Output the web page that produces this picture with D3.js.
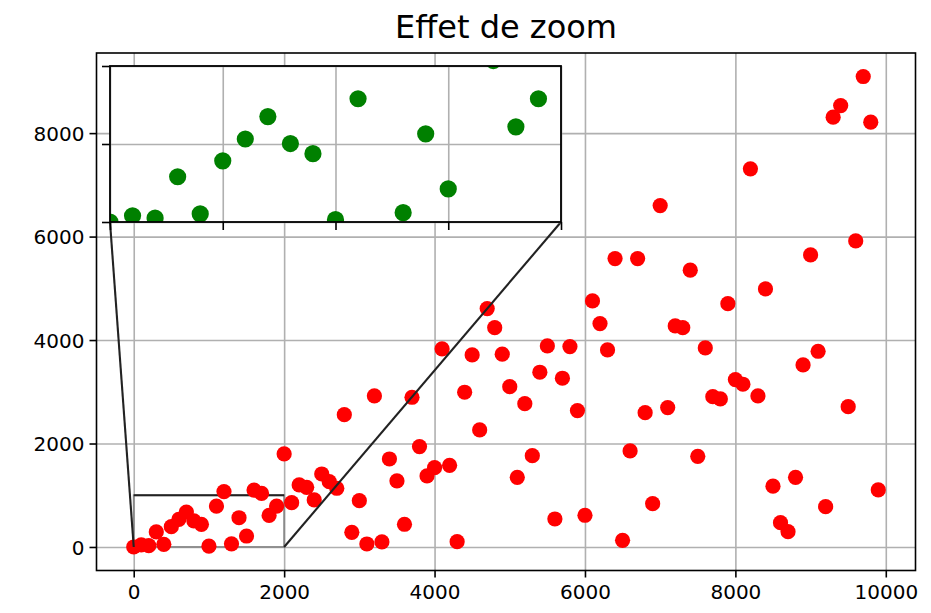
<!DOCTYPE html>
<html>
<head>
<meta charset="utf-8">
<script src="https://cdn.jsdelivr.net/npm/d3@7"></script>
<style>
  body { margin: 0; background: #fff; }
  text { font-family: "DejaVu Sans", sans-serif; fill: #000; }
</style>
</head>
<body>
<div id="chart"></div>
<script>
// data
const xValues = [
  0, 100, 200, 300, 400, 500, 600, 700, 800, 900,
  1000, 1100, 1200, 1300, 1400, 1500, 1600, 1700, 1800, 1900,
  2000, 2100, 2200, 2300, 2400, 2500, 2600, 2700, 2800, 2900,
  3000, 3100, 3200, 3300, 3400, 3500, 3600, 3700, 3800, 3900,
  4000, 4100, 4200, 4300, 4400, 4500, 4600, 4700, 4800, 4900,
  5000, 5100, 5200, 5300, 5400, 5500, 5600, 5700, 5800, 5900,
  6000, 6100, 6200, 6300, 6400, 6500, 6600, 6700, 6800, 6900,
  7000, 7100, 7200, 7300, 7400, 7500, 7600, 7700, 7800, 7900,
  8000, 8100, 8200, 8300, 8400, 8500, 8600, 8700, 8800, 8900,
  9000, 9100, 9200, 9300, 9400, 9500, 9600, 9700, 9800, 9900
];
const yValues = [
  0, 40, 25, 290, 52, 392, 532, 676, 503, 438,
  15, 790, 1070, 60, 565, 212, 1100, 1035, 610, 790,
  1798, 857, 1199, 1154, 909, 1411, 1263, 1135, 2558, 284,
  896, 58, 2920, 97, 1701, 1276, 439, 2894, 1940, 1373,
  1533, 3828, 1579, 103, 2991, 3712, 2262, 4608, 4240, 3726,
  3099, 1347, 2771, 1765, 3378, 3886, 541, 3262, 3873, 2636,
  613, 4756, 4318, 3809, 5574, 129, 1856, 5574, 2597, 837,
  6599, 2694, 4273, 4240, 5350, 1753, 3848, 2906, 2862, 4704,
  3235, 3146, 7310, 2920, 4988, 1175, 470, 296, 1347, 3519,
  5646, 3783, 779, 8308, 8533, 2713, 5916, 9094, 8211, 1102
];
const xTicks = [0, 2000, 4000, 6000, 8000, 10000];
const yTicks = [0, 2000, 4000, 6000, 8000];
const zoomX = [0, 2000];
const zoomY = [0, 1000];
const zoomXTicks = [0, 500, 1000, 1500, 2000];
const zoomYTicks = [0, 500, 1000];
const title = 'Effet de zoom';

const W = 931, H = 613;
const box = { left: 96.5, right: 915.5, top: 53, bottom: 570.5 };
const inset = { left: 110, right: 561, top: 66, bottom: 222 };
const gridColor = '#b0b0b0';
const data = xValues.map((x, i) => ({ x: x, y: yValues[i] }));

const svg = d3.select('#chart').append('svg')
  .attr('width', W)
  .attr('height', H);

// matplotlib style 5% margins
const pad = (ext) => {
  const r = ext[1] - ext[0];
  return [ext[0] - 0.05 * r, ext[1] + 0.05 * r];
};
const x = d3.scaleLinear().domain(pad(d3.extent(xValues))).range([box.left, box.right]);
const y = d3.scaleLinear().domain(pad(d3.extent(yValues))).range([box.bottom, box.top]);

svg.append('text')
  .attr('x', (box.left + box.right) / 2)
  .attr('y', 38)
  .attr('text-anchor', 'middle')
  .style('font-size', '32px')
  .text(title);

const main = svg.append('g');

// grid
main.append('g')
  .attr('transform', 'translate(0,' + box.bottom + ')')
  .call(d3.axisBottom(x).tickValues(xTicks).tickSize(-(box.bottom - box.top)).tickFormat(''))
  .call(g => g.select('.domain').remove())
  .call(g => g.selectAll('line').attr('stroke', gridColor).attr('stroke-width', 1.6));
main.append('g')
  .attr('transform', 'translate(' + box.left + ',0)')
  .call(d3.axisLeft(y).tickValues(yTicks).tickSize(-(box.right - box.left)).tickFormat(''))
  .call(g => g.select('.domain').remove())
  .call(g => g.selectAll('line').attr('stroke', gridColor).attr('stroke-width', 1.6));

// zoomed region marker
main.append('rect')
  .attr('x', x(zoomX[0]))
  .attr('y', y(zoomY[1]))
  .attr('width', x(zoomX[1]) - x(zoomX[0]))
  .attr('height', y(zoomY[0]) - y(zoomY[1]))
  .attr('fill', 'none')
  .attr('stroke', '#8a8a8a')
  .attr('stroke-width', 1.8);
main.append('line')
  .attr('x1', x(zoomX[0])).attr('x2', x(zoomX[1]))
  .attr('y1', y(zoomY[1])).attr('y2', y(zoomY[1]))
  .attr('stroke', '#222')
  .attr('stroke-width', 2.1);

main.append('g')
  .selectAll('circle')
  .data(data)
  .enter().append('circle')
  .attr('cx', d => x(d.x))
  .attr('cy', d => y(d.y))
  .attr('r', 7.6)
  .attr('fill', 'red');

// connectors to the inset
const links = [
  [[x(zoomX[0]), y(zoomY[0])], [inset.left, inset.bottom]],
  [[x(zoomX[1]), y(zoomY[0])], [inset.right, inset.bottom]]
];
main.selectAll('.link')
  .data(links)
  .enter().append('line')
  .attr('class', 'link')
  .attr('x1', d => d[0][0]).attr('y1', d => d[0][1])
  .attr('x2', d => d[1][0]).attr('y2', d => d[1][1])
  .attr('stroke', '#222')
  .attr('stroke-width', 2.1);

// main axes
main.append('g')
  .attr('transform', 'translate(0,' + box.bottom + ')')
  .call(d3.axisBottom(x).tickValues(xTicks).tickSize(7).tickPadding(7).tickFormat(d3.format('d')))
  .call(g => g.select('.domain').remove())
  .call(g => g.selectAll('line').attr('stroke', '#000').attr('stroke-width', 1.6))
  .call(g => g.selectAll('text').style('font-size', '20px').attr('dy', '0.71em').attr('y', 14));
main.append('g')
  .attr('transform', 'translate(' + box.left + ',0)')
  .call(d3.axisLeft(y).tickValues(yTicks).tickSize(7).tickPadding(7).tickFormat(d3.format('d')))
  .call(g => g.select('.domain').remove())
  .call(g => g.selectAll('line').attr('stroke', '#000').attr('stroke-width', 1.6))
  .call(g => g.selectAll('text').style('font-size', '20px').attr('x', -12).attr('dy', '0.36em'));
main.append('rect')
  .attr('x', box.left).attr('y', box.top)
  .attr('width', box.right - box.left).attr('height', box.bottom - box.top)
  .attr('fill', 'none').attr('stroke', '#000').attr('stroke-width', 1.6);

// inset axes
const xi = d3.scaleLinear().domain(zoomX).range([inset.left, inset.right]);
const yi = d3.scaleLinear().domain(zoomY).range([inset.bottom, inset.top]);
const ins = svg.append('g');
ins.append('defs').append('clipPath').attr('id', 'insetClip')
  .append('rect')
  .attr('x', inset.left).attr('y', inset.top)
  .attr('width', inset.right - inset.left).attr('height', inset.bottom - inset.top);
ins.append('rect')
  .attr('x', inset.left).attr('y', inset.top)
  .attr('width', inset.right - inset.left).attr('height', inset.bottom - inset.top)
  .attr('fill', '#fff');
ins.append('g')
  .attr('transform', 'translate(0,' + inset.bottom + ')')
  .call(d3.axisBottom(xi).tickValues(zoomXTicks).tickSize(-(inset.bottom - inset.top)).tickFormat(''))
  .call(g => g.select('.domain').remove())
  .call(g => g.selectAll('line').attr('stroke', gridColor).attr('stroke-width', 1.6));
ins.append('g')
  .attr('transform', 'translate(' + inset.left + ',0)')
  .call(d3.axisLeft(yi).tickValues(zoomYTicks).tickSize(-(inset.right - inset.left)).tickFormat(''))
  .call(g => g.select('.domain').remove())
  .call(g => g.selectAll('line').attr('stroke', gridColor).attr('stroke-width', 1.6));
ins.append('g')
  .attr('clip-path', 'url(#insetClip)')
  .selectAll('circle')
  .data(data.filter(d => d.x <= zoomX[1] + 200 && d.y <= zoomY[1] + 200))
  .enter().append('circle')
  .attr('cx', d => xi(d.x))
  .attr('cy', d => yi(d.y))
  .attr('r', 8.6)
  .attr('fill', 'green');
ins.append('g')
  .attr('transform', 'translate(0,' + inset.bottom + ')')
  .call(d3.axisBottom(xi).tickValues(zoomXTicks).tickSize(8).tickFormat(''))
  .call(g => g.select('.domain').remove())
  .call(g => g.selectAll('line').attr('stroke', '#000').attr('stroke-width', 1.6));
ins.append('g')
  .attr('transform', 'translate(' + inset.left + ',0)')
  .call(d3.axisLeft(yi).tickValues(zoomYTicks).tickSize(8).tickFormat(''))
  .call(g => g.select('.domain').remove())
  .call(g => g.selectAll('line').attr('stroke', '#000').attr('stroke-width', 1.6));
ins.append('rect')
  .attr('x', inset.left).attr('y', inset.top)
  .attr('width', inset.right - inset.left).attr('height', inset.bottom - inset.top)
  .attr('fill', 'none').attr('stroke', '#000').attr('stroke-width', 1.8);
</script>
</body>
</html>
